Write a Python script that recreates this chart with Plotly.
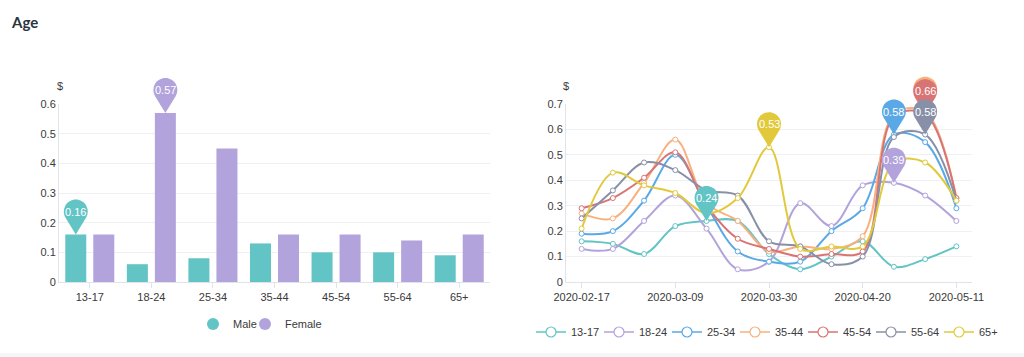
import math
import plotly.graph_objects as go

# ---------------- data ----------------
age_groups = ["13-17", "18-24", "25-34", "35-44", "45-54", "55-64", "65+"]
male_values = [0.16, 0.06, 0.08, 0.13, 0.10, 0.10, 0.09]
female_values = [0.16, 0.57, 0.45, 0.16, 0.16, 0.14, 0.16]

dates = ["2020-02-17", "2020-02-24", "2020-03-02", "2020-03-09", "2020-03-16",
         "2020-03-23", "2020-03-30", "2020-04-06", "2020-04-13", "2020-04-20",
         "2020-04-27", "2020-05-04", "2020-05-11"]
date_ticks = ["2020-02-17", "2020-03-09", "2020-03-30", "2020-04-20", "2020-05-11"]

s_13_17 = [0.16, 0.15, 0.11, 0.22, 0.24, 0.24, 0.11, 0.05, 0.10, 0.16, 0.06, 0.09, 0.14]
s_18_24 = [0.13, 0.13, 0.24, 0.34, 0.21, 0.05, 0.08, 0.31, 0.22, 0.38, 0.39, 0.34, 0.24]
s_25_34 = [0.19, 0.20, 0.32, 0.50, 0.30, 0.12, 0.08, 0.08, 0.20, 0.29, 0.58, 0.55, 0.29]
s_35_44 = [0.27, 0.25, 0.39, 0.56, 0.31, 0.24, 0.12, 0.14, 0.13, 0.18, 0.66, 0.67, 0.33]
s_45_54 = [0.29, 0.33, 0.41, 0.51, 0.30, 0.17, 0.13, 0.10, 0.11, 0.12, 0.65, 0.66, 0.33]
s_55_64 = [0.25, 0.36, 0.47, 0.44, 0.36, 0.34, 0.16, 0.14, 0.07, 0.10, 0.57, 0.58, 0.32]
s_65p = [0.21, 0.43, 0.38, 0.35, 0.27, 0.33, 0.53, 0.13, 0.14, 0.14, 0.47, 0.47, 0.32]
line_series = [s_13_17, s_18_24, s_25_34, s_35_44, s_45_54, s_55_64, s_65p]

# ---------------- style ----------------
W, H = 1024, 357
TEAL = "#62c4c5"
PURPLE = "#b3a3dc"
line_colors = ["#62c4c5", "#b3a3dc", "#5aa9e6", "#f9b07f", "#d87474", "#8890a8", "#e2c93b"]
GRID = "#eef0f4"
AXIS = "#e0e3ea"
TXT = "#3a3a3a"
FONT = "Liberation Sans, Arial, sans-serif"
FS = 11

BARGAP = 0.09
BARGROUPGAP = 0.25

L_X = (59, 490)
R_X = (566, 972)
Y_PX = (282, 104)
L_YMAX = 0.6
R_YMAX = 0.7


def fx(px):
    return px / W


def fy(py):
    return 1 - py / H


def pin_path(r=12.0, d=23.0, nseg=4):
    L = math.sqrt(d * d - r * r)
    th = math.asin(r / d)
    tx, ty = L * math.sin(th), L * math.cos(th)
    a_start = math.atan2(ty - d, tx)
    a_end = math.pi - a_start
    sweep = a_end - a_start
    parts = [f"M0,0 L{tx:.2f},{ty:.2f}"]
    step = sweep / nseg
    k = 4.0 / 3.0 * math.tan(step / 4)
    for i in range(nseg):
        a0 = a_start + i * step
        a1 = a0 + step
        p0 = (r * math.cos(a0), d + r * math.sin(a0))
        p3 = (r * math.cos(a1), d + r * math.sin(a1))
        p1 = (p0[0] - k * r * math.sin(a0), p0[1] + k * r * math.cos(a0))
        p2 = (p3[0] + k * r * math.sin(a1), p3[1] - k * r * math.cos(a1))
        parts.append(f"C{p1[0]:.2f},{p1[1]:.2f} {p2[0]:.2f},{p2[1]:.2f} {p3[0]:.2f},{p3[1]:.2f}")
    parts.append("Z")
    return " ".join(parts)


PIN = pin_path()
PIN_CENTER = 23

fig = go.Figure()

# ---------------- left: bars ----------------
fig.add_trace(go.Bar(x=age_groups, y=male_values, name="Male", marker=dict(color=TEAL, line=dict(width=0)),
                     xaxis="x", yaxis="y", showlegend=False))
fig.add_trace(go.Bar(x=age_groups, y=female_values, name="Female", marker=dict(color=PURPLE, line=dict(width=0)),
                     xaxis="x", yaxis="y", showlegend=False))
for nm, col, lg in [("Male", TEAL, "legend"), ("Female", PURPLE, "legend3")]:
    fig.add_trace(go.Scatter(x=[None], y=[None], mode="markers", name=nm,
                             marker=dict(color=col, size=12), xaxis="x", yaxis="y", legend=lg))

# ---------------- right: lines ----------------
for name, vals, col in zip(age_groups, line_series, line_colors):
    fig.add_trace(go.Scatter(
        x=dates, y=vals, name=name, mode="lines+markers", showlegend=False,
        line=dict(color=col, width=2, shape="spline", smoothing=1.0),
        marker=dict(symbol="circle", size=5, color="white", line=dict(color=col, width=1)),
        xaxis="x2", yaxis="y2"))
for name, col in zip(age_groups, line_colors):
    fig.add_trace(go.Scatter(
        x=[None], y=[None], name=name, mode="lines+markers",
        line=dict(color=col, width=1.5),
        marker=dict(symbol="circle", size=10, color="white", line=dict(color=col, width=1.2)),
        xaxis="x2", yaxis="y2", legend="legend2"))

shapes = []
annotations = []


def to_paper(pos, n, xr, val, ymax):
    xpx = xr[0] + (pos + 0.5) / n * (xr[1] - xr[0])
    ypx = Y_PX[0] + val / ymax * (Y_PX[1] - Y_PX[0])
    return xpx, ypx


pins = []
slot = (1 - BARGAP) / 2
for vals, col, off in [(male_values, TEAL, -slot / 2), (female_values, PURPLE, slot / 2)]:
    i = vals.index(max(vals))
    pins.append(to_paper(i + off, len(age_groups), L_X, vals[i], L_YMAX) + (vals[i], col))
for vals, col in zip(line_series, line_colors):
    i = vals.index(max(vals))
    pins.append(to_paper(i, len(dates), R_X, vals[i], R_YMAX) + (vals[i], col))

for k, (xpx, ypx, val, col) in enumerate(pins):
    shapes.append(dict(type="path", xref="paper", yref="paper", xsizemode="pixel", ysizemode="pixel",
                       xanchor=fx(xpx), yanchor=fy(ypx), path=PIN, fillcolor=col, line=dict(width=0),
                       layer="above"))
    covered = any(abs(p[0] - xpx) < 8 and abs(p[1] - ypx) < 8 for p in pins[k + 1:])
    if not covered:
        annotations.append(dict(xref="paper", yref="paper", x=fx(xpx), y=fy(ypx), text=f"{val:.2f}",
                                showarrow=False, xanchor="center", yanchor="middle", yshift=PIN_CENTER,
                                font=dict(color="white", size=FS, family=FONT)))

shapes.append(dict(type="rect", xref="paper", yref="paper", x0=0, x1=1, y0=0, y1=fy(353),
                   fillcolor="#f5f6f8", line=dict(width=0), layer="below"))

annotations.append(dict(xref="paper", yref="paper", x=fx(9), y=fy(22), text="<b>Age</b>", showarrow=False,
                        xanchor="left", yanchor="middle",
                        font=dict(size=15, color="#2b3440", family="Lato, Noto Sans, sans-serif")))
annotations.append(dict(xref="paper", yref="paper", x=fx(60), y=fy(86), text="$", showarrow=False,
                        xanchor="center", yanchor="middle", font=dict(size=FS, color=TXT, family=FONT)))
annotations.append(dict(xref="paper", yref="paper", x=fx(566), y=fy(86), text="$", showarrow=False,
                        xanchor="center", yanchor="middle", font=dict(size=FS, color=TXT, family=FONT)))

axis_common = dict(showline=True, linecolor=AXIS, linewidth=1, tickfont=dict(size=FS, color=TXT, family=FONT),
                   fixedrange=True, automargin=False)
leg_common = dict(orientation="h", yanchor="middle", font=dict(size=FS, color=TXT, family=FONT),
                  bgcolor="rgba(0,0,0,0)")

fig.update_layout(
    width=W, height=H, autosize=False,
    margin=dict(l=0, r=0, t=0, b=0, pad=0),
    paper_bgcolor="white", plot_bgcolor="white",
    font=dict(family=FONT, size=FS, color=TXT),
    barmode="group", bargap=BARGAP, bargroupgap=BARGROUPGAP,
    xaxis=dict(domain=[fx(L_X[0]), fx(L_X[1])], type="category", ticks="outside", ticklen=5, tickcolor=AXIS,
               showgrid=False, anchor="y", **axis_common),
    yaxis=dict(domain=[fy(Y_PX[0]), fy(Y_PX[1])], range=[0, L_YMAX], dtick=0.1, showgrid=True, gridcolor=GRID,
               zeroline=False, ticks="", anchor="x", **axis_common),
    xaxis2=dict(domain=[fx(R_X[0]), fx(R_X[1])], type="category", range=[-0.5, len(dates) - 0.5],
                tickvals=date_ticks, ticks="outside", ticklen=5, tickcolor=AXIS, showgrid=False, anchor="y2",
                **axis_common),
    yaxis2=dict(domain=[fy(Y_PX[0]), fy(Y_PX[1])], range=[0, R_YMAX], dtick=0.1, showgrid=True, gridcolor=GRID,
                zeroline=False, ticks="", anchor="x2", **axis_common),
    legend=dict(x=fx(193), y=fy(324), xanchor="left", **leg_common),
    legend3=dict(x=fx(245), y=fy(324), xanchor="left", **leg_common),
    legend2=dict(x=fx(769), y=fy(332), xanchor="center", entrywidth=23, **leg_common),
    shapes=shapes, annotations=annotations,
)

fig.write_html("out.html", post_script="document.body.style.margin='0';", config={"displayModeBar": False})
